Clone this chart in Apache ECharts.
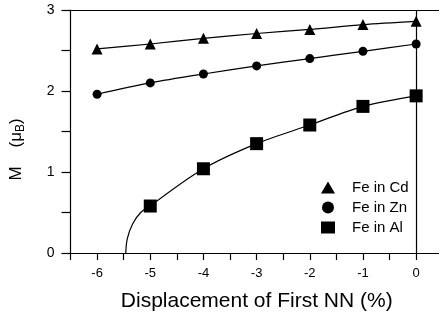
<!DOCTYPE html>
<html><head><meta charset="utf-8">
<script src="https://cdn.jsdelivr.net/npm/echarts@6/dist/echarts.min.js"></script>
<style>html,body{margin:0;padding:0;background:#fff}#c{width:439px;height:320px}</style>
</head><body><div id="c"></div>
<script>
const xVals = [-6, -5, -4, -3, -2, -1, 0];
const feCd = [2.52, 2.58, 2.65, 2.71, 2.76, 2.82, 2.86];
const feZn = [1.96, 2.10, 2.21, 2.31, 2.40, 2.49, 2.58];
const alX = [-5, -4, -3, -2, -1, 0];
const feAl = [0.58, 1.04, 1.35, 1.58, 1.81, 1.94];
// fitted curve start
const alFitX = [-5.46, -5.43, -5.33, -5.18, -5];
const alFitY = [0, 0.18, 0.36, 0.50, 0.58];
const seriesNames = ['Fe in Cd', 'Fe in Zn', 'Fe in Al'];

const font = 'Liberation Sans, Arial, Helvetica, sans-serif';
const pair = (xs, ys) => xs.map((x, i) => [x, ys[i]]);

const chart = echarts.init(document.getElementById('c'), null, {renderer: 'canvas'});
chart.setOption({
  animation: false,
  backgroundColor: '#fff',
  grid: {left: 66, top: 10, right: 0, bottom: 67},
  legend: {
    orient: 'vertical', left: 316, top: 175, itemGap: 5, itemWidth: 14, itemHeight: 12,
    data: [
      {name: seriesNames[0], icon: 'triangle'},
      {name: seriesNames[1], icon: 'circle'},
      {name: seriesNames[2], icon: 'rect'}
    ],
    textStyle: {fontFamily: font, fontSize: 15, color: '#000', padding: [0, 0, 0, 12]}
  },
  xAxis: [{
    type: 'value', min: -6.5, max: 0.43, interval: 0.5,
    name: 'Displacement of First NN (%)', nameLocation: 'middle', nameGap: 38,
    nameTextStyle: {fontFamily: font, fontSize: 21, color: '#000', padding: [0, 0, 0, 4]},
    axisLine: {onZero: false, lineStyle: {color: '#000', width: 1.2}},
    axisTick: {inside: false, length: 7, lineStyle: {color: '#000', width: 1.2}},
    axisLabel: {fontFamily: font, fontSize: 13, color: '#000', margin: 14,
      showMaxLabel: false,
      formatter: v => (Math.abs(v - Math.round(v)) < 1e-6 ? String(Math.round(v)) : '')},
    splitLine: {show: false}
  }, {
    type: 'value', min: -6.5, max: 0.43, position: 'top',
    axisLine: {show: true, onZero: false, lineStyle: {color: '#000', width: 1.2}},
    axisTick: {show: false}, axisLabel: {show: false}, splitLine: {show: false}
  }],
  yAxis: {
    type: 'value', min: 0, max: 3, interval: 0.5,
    name: '{a|M    (μ}{b|B}{a|)}', nameLocation: 'middle', nameGap: 44, nameRotate: 90,
    nameTextStyle: {fontFamily: font, fontSize: 17, color: '#000', padding: [0, 36, 0, 0],
      rich: {a: {fontFamily: font, fontSize: 17, color: '#000'},
             b: {fontFamily: font, fontSize: 12, color: '#000', verticalAlign: 'bottom', padding: [8, 0, 0, 0]}}},
    axisLine: {show: true, onZero: false, lineStyle: {color: '#000', width: 1.2}},
    axisTick: {length: 9, lineStyle: {color: '#000', width: 1.2}},
    axisLabel: {fontFamily: font, fontSize: 14, color: '#000', margin: 16,
      formatter: v => (Math.abs(v - Math.round(v)) < 1e-6 ? String(Math.round(v)) : '')},
    splitLine: {show: false}
  },
  series: [
    {name: seriesNames[0], type: 'line', data: pair(xVals, feCd), symbol: 'triangle', symbolSize: 11,
     smooth: 0.3, lineStyle: {color: '#000', width: 1.2}, itemStyle: {color: '#000'}, z: 3,
     markLine: {silent: true, symbol: 'none', label: {show: false},
       lineStyle: {color: '#000', type: 'solid', width: 1.2}, data: [{xAxis: 0}]}},
    {name: seriesNames[1], type: 'line', data: pair(xVals, feZn), symbol: 'circle', symbolSize: 9,
     smooth: 0.3, lineStyle: {color: '#000', width: 1.2}, itemStyle: {color: '#000'}, z: 3},
    {name: seriesNames[2], type: 'line', data: pair(alX, feAl), symbol: 'rect', symbolSize: 13,
     smooth: 0.3, lineStyle: {color: '#000', width: 1.2}, itemStyle: {color: '#000'}, z: 3},
    {name: 'fit', type: 'line', data: pair(alFitX, alFitY), symbol: 'none', smooth: 0.4,
     lineStyle: {color: '#000', width: 1.2}, z: 2}
  ]
});
</script></body></html>
